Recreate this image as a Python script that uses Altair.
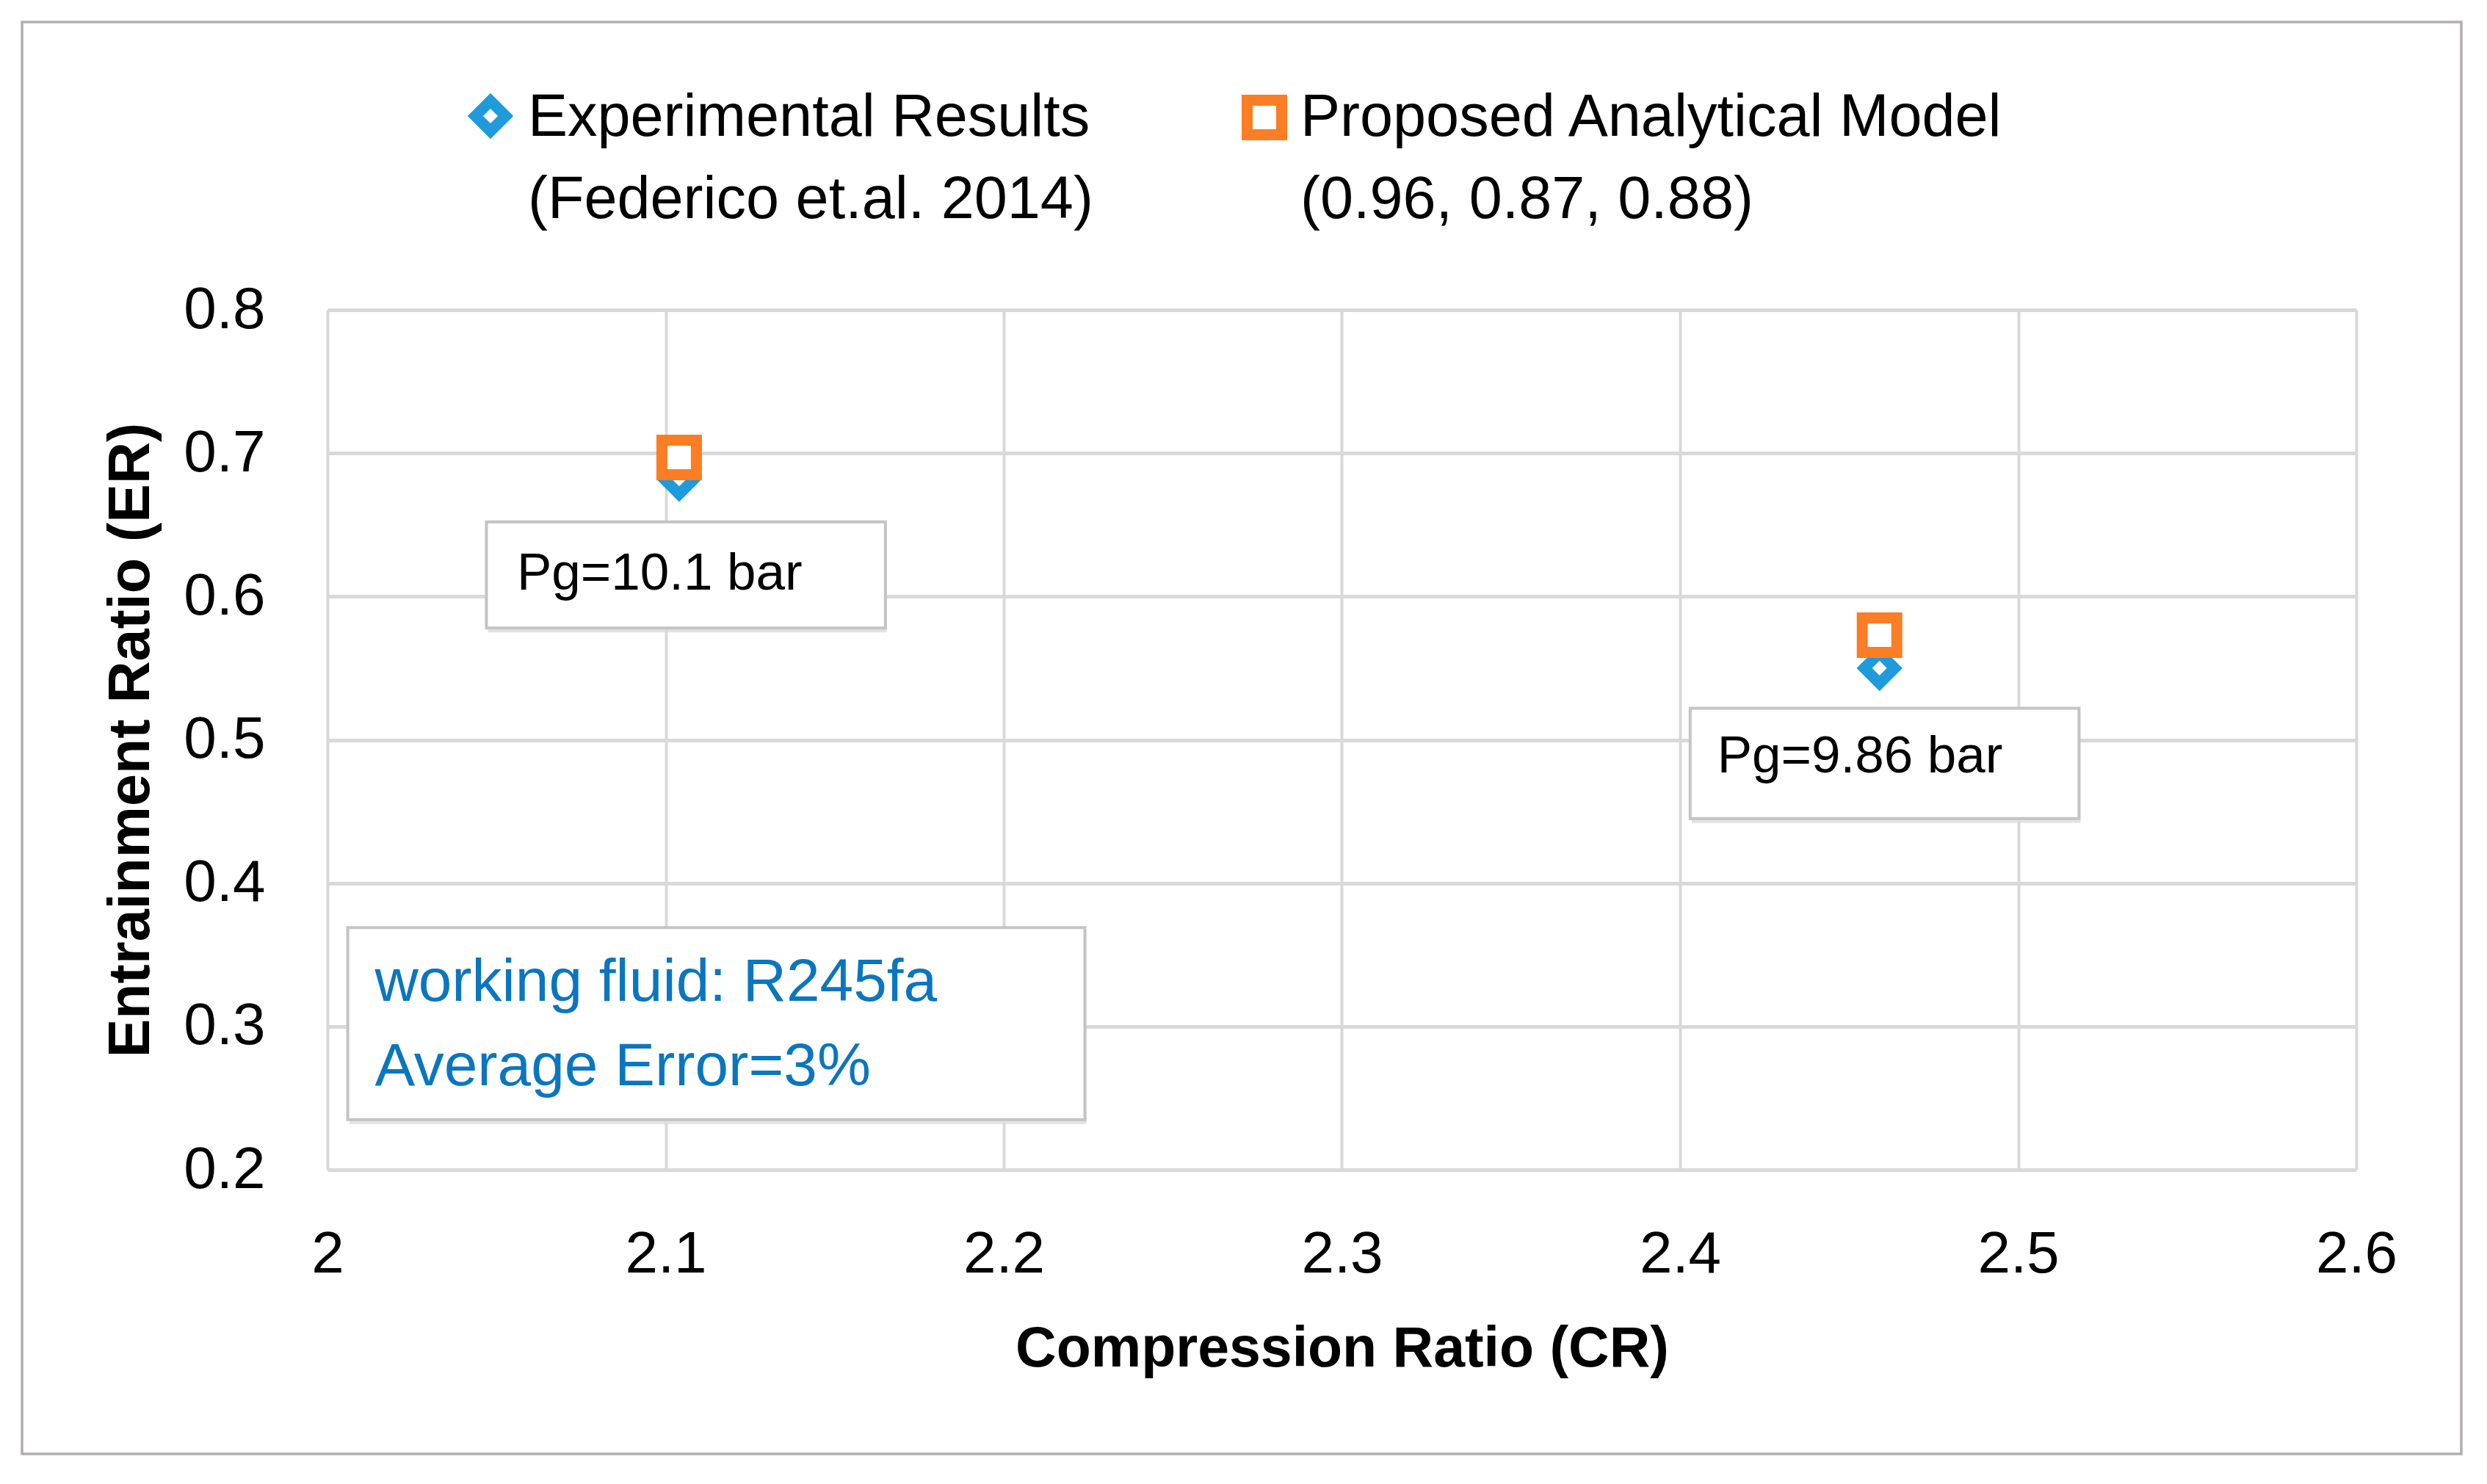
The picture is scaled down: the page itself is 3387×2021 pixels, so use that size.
import altair as alt
import pandas as pd

# ---------------- data ----------------
series = ["Experimental Results", "Proposed Analytical Model"]
legend_line2 = ["(Federico et.al. 2014)", "(0.96, 0.87, 0.88)"]

cr_exp = [2.104, 2.459]
er_exp = [0.682, 0.550]
cr_model = [2.104, 2.459]
er_model = [0.697, 0.573]

x_ticks = [2.0, 2.1, 2.2, 2.3, 2.4, 2.5, 2.6]
y_ticks = [0.2, 0.3, 0.4, 0.5, 0.6, 0.7, 0.8]

# annotation boxes in data coordinates
box_x1 = [2.047, 2.403, 2.006]
box_x2 = [2.165, 2.518, 2.224]
box_y1 = [0.652, 0.522, 0.369]
box_y2 = [0.578, 0.445, 0.235]

note_text = ["Pg=10.1 bar", "Pg=9.86 bar"]
note_x = [2.056, 2.411]
note_y = [0.605, 0.477]

info_text = ["working fluid: R245fa", "Average Error=3%"]
info_x = [2.014, 2.014]
info_y = [0.318, 0.259]

# ---------------- styles ----------------
FONT = "Liberation Sans"
BLUE = "#1F9BDB"
ORANGE = "#FB7D24"
INFO_BLUE = "#0B76C0"
GRID = "#d9d9d9"

W, H = 2763, 1171

pts = pd.DataFrame({
    "cr": cr_exp + cr_model,
    "er": er_exp + er_model,
    "series": [series[0]] * len(cr_exp) + [series[1]] * len(cr_model),
})
boxes = pd.DataFrame({"x1": box_x1, "x2": box_x2, "y1": box_y1, "y2": box_y2})
notes = pd.DataFrame({"x": note_x, "y": note_y, "t": note_text})
infos = pd.DataFrame({"x": info_x, "y": info_y, "t": info_text})

xs = alt.Scale(domain=[2.0, 2.6], nice=False, zero=False)
ys = alt.Scale(domain=[0.2, 0.8], nice=False, zero=False)

xaxis = alt.Axis(
    values=x_ticks, format=".1~f", title="Compression Ratio (CR)",
    titleFont=FONT, titleFontSize=77, titleFontWeight="bold", titleColor="black",
    titleX=W / 2, titleY=267, titleBaseline="alphabetic", titleAlign="center",
    labelFont=FONT, labelFontSize=80, labelColor="black", labelPadding=76,
    labelFlush=False, labelOverlap=False,
    ticks=False, domain=False, grid=True, gridColor=GRID, gridWidth=4,
)
yaxis = alt.Axis(
    values=y_ticks, format=".1f", title="Entrainment Ratio (ER)",
    titleFont=FONT, titleFontSize=79, titleFontWeight="bold", titleColor="black",
    titleAngle=270, titleX=-268, titleY=H / 2, titleBaseline="middle", titleAlign="center",
    labelFont=FONT, labelFontSize=80, labelColor="black", labelPadding=85,
    labelFlush=False, labelOverlap=False,
    ticks=False, domain=False, grid=True, gridColor=GRID, gridWidth=5,
)


def X(f):
    return alt.X(f, type="quantitative", scale=xs, axis=xaxis)


def Y(f):
    return alt.Y(f, type="quantitative", scale=ys, axis=yaxis)


one = pd.DataFrame({"a": [0]})

border = alt.Chart(one).mark_rect(filled=False, stroke="#b3aeae", strokeWidth=3.5).encode(
    x=alt.value(-416), x2=alt.value(2906), y=alt.value(-392), y2=alt.value(1558)
)

shadow = alt.Chart(boxes).mark_rect(
    fill="#dcdcdc", opacity=0.8, xOffset=2, x2Offset=2, yOffset=6, y2Offset=6
).encode(x=X("x1"), x2=alt.X2("x2"), y=Y("y1"), y2=alt.Y2("y2"))

box = alt.Chart(boxes).mark_rect(fill="white", stroke="#c4c4c4", strokeWidth=4).encode(
    x=X("x1"), x2=alt.X2("x2"), y=Y("y1"), y2=alt.Y2("y2")
)

note_layer = alt.Chart(notes).mark_text(
    align="left", baseline="alphabetic", font=FONT, fontSize=71, color="black"
).encode(x=X("x"), y=Y("y"), text="t:N")

info_layer = alt.Chart(infos).mark_text(
    align="left", baseline="alphabetic", font=FONT, fontSize=82, color=INFO_BLUE
).encode(x=X("x"), y=Y("y"), text="t:N")

points = alt.Chart(pts).mark_point(filled=False, fill="white", strokeWidth=15, opacity=1, fillOpacity=1).encode(
    x=X("cr"),
    y=Y("er"),
    shape=alt.Shape("series:N", scale=alt.Scale(domain=series, range=["diamond", "square"]), legend=None),
    color=alt.Color("series:N", scale=alt.Scale(domain=series, range=[BLUE, ORANGE]), legend=None),
    size=alt.Size("series:O", scale=alt.Scale(domain=series, range=[1700, 2209]), legend=None),
)

# ---------------- custom legend (top) ----------------
leg_shapes = ["diamond", "square"]
leg_sizes = [1700, 2209]
leg_colors = [BLUE, ORANGE]
leg_sym_x = [222, 1276]
leg_sym_y = [-264, -262]
leg_txt_x = [273, 1325]
leg_txt_y = -237

legend_layers = []
for i in range(len(series)):
    d = pd.DataFrame({"label": [series[i] + "\n" + legend_line2[i]]})
    legend_layers.append(
        alt.Chart(d).mark_point(
            shape=leg_shapes[i], size=leg_sizes[i], filled=False, fill="white",
            stroke=leg_colors[i], strokeWidth=15, opacity=1
        ).encode(x=alt.value(leg_sym_x[i]), y=alt.value(leg_sym_y[i]))
    )
    legend_layers.append(
        alt.Chart(d).mark_text(
            align="left", baseline="alphabetic", font=FONT, fontSize=81,
            lineBreak="\n", lineHeight=112, color="black"
        ).encode(x=alt.value(leg_txt_x[i]), y=alt.value(leg_txt_y), text="label:N")
    )

chart = alt.layer(
    border, shadow, box, note_layer, info_layer, points, *legend_layers
).properties(
    width=W, height=H,
    padding={"left": 438, "top": 414, "right": 160, "bottom": 410},
    autosize=alt.AutoSizeParams(type="none"),
    background="white",
).configure_view(strokeWidth=0)

chart.save("out.html", embed_options={"renderer": "svg", "actions": False})
